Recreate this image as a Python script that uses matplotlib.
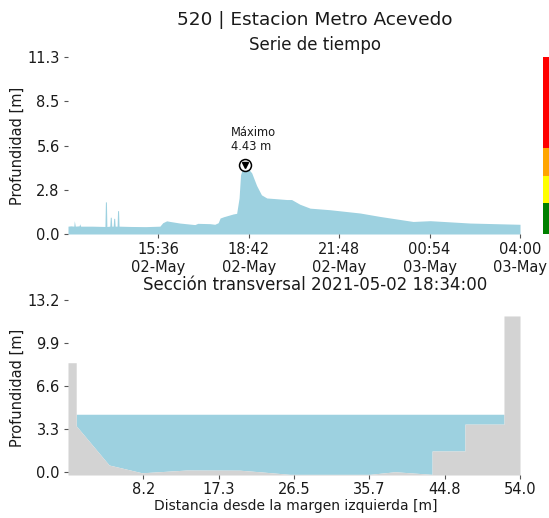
import matplotlib
matplotlib.use('Agg')
import matplotlib.pyplot as plt
import matplotlib.dates as mdates
import numpy as np
import pandas as pd

# ---------------- data ----------------
station_title = "520 | Estacion Metro Acevedo"
series_title = "Serie de tiempo"
section_title = "Sección transversal 2021-05-02 18:34:00"
ylabel = "Profundidad [m]"
section_xlabel = "Distancia desde la margen izquierda [m]"

times = [
    "2021-05-02 12:30", "2021-05-02 12:36", "2021-05-02 12:42", "2021-05-02 12:43",
    "2021-05-02 12:45", "2021-05-02 12:53", "2021-05-02 12:54", "2021-05-02 12:56",
    "2021-05-02 13:20", "2021-05-02 13:46", "2021-05-02 13:47", "2021-05-02 13:49",
    "2021-05-02 13:50", "2021-05-02 13:56", "2021-05-02 13:57", "2021-05-02 13:59",
    "2021-05-02 14:00", "2021-05-02 14:03", "2021-05-02 14:04", "2021-05-02 14:06",
    "2021-05-02 14:07", "2021-05-02 14:11", "2021-05-02 14:12", "2021-05-02 14:14",
    "2021-05-02 14:15", "2021-05-02 14:40", "2021-05-02 15:10", "2021-05-02 15:39",
    "2021-05-02 15:45", "2021-05-02 15:53", "2021-05-02 16:00", "2021-05-02 16:20",
    "2021-05-02 16:51", "2021-05-02 16:57", "2021-05-02 17:22", "2021-05-02 17:32",
    "2021-05-02 17:39", "2021-05-02 17:43", "2021-05-02 17:50", "2021-05-02 18:10",
    "2021-05-02 18:17", "2021-05-02 18:22", "2021-05-02 18:25", "2021-05-02 18:30",
    "2021-05-02 18:34", "2021-05-02 18:48", "2021-05-02 18:58", "2021-05-02 19:08",
    "2021-05-02 19:19", "2021-05-02 19:40", "2021-05-02 20:00", "2021-05-02 20:10",
    "2021-05-02 20:27", "2021-05-02 20:48", "2021-05-02 21:29", "2021-05-02 22:31",
    "2021-05-02 23:12", "2021-05-03 00:20", "2021-05-03 00:55", "2021-05-03 02:17",
    "2021-05-03 04:00",
]
depths = [
    0.50, 0.52, 0.50, 0.85,
    0.50, 0.52, 0.65, 0.50,
    0.50, 0.48, 2.05, 2.05,
    0.48, 0.50, 1.07, 1.07,
    0.50, 0.50, 1.00, 1.00,
    0.50, 0.50, 1.49, 1.49,
    0.50, 0.48, 0.47, 0.50,
    0.72, 0.84, 0.80, 0.70,
    0.60, 0.68, 0.66, 0.62,
    0.72, 1.02, 1.10, 1.28,
    1.32, 2.30, 3.77, 4.30,
    4.43, 3.90, 3.10, 2.50,
    2.30, 2.25, 2.20, 2.20,
    1.90, 1.65, 1.55, 1.34,
    1.12, 0.80, 0.85, 0.70,
    0.62,
]

series_start = "2021-05-02 12:30"
series_end = "2021-05-03 04:00"
max_time = "2021-05-02 18:34"
max_depth = 4.43
max_label = "Máximo\n4.43 m"
label_time = "2021-05-02 18:05"

series_ymax = 11.3
series_ytick_labels = ["0.0", "2.8", "5.6", "8.5", "11.3"]
level_bounds = [0.0, 2.0, 3.7, 5.5, 11.3]
level_colors = ["#008000", "#FFFF00", "#FFA500", "#FF0000"]

section_x = [-1.0, 0.0, 0.0, 4.0, 8.0, 13.4, 19.9, 22.3, 26.0, 35.7, 38.8,
             43.3, 43.3, 47.3, 47.3, 52.05, 52.05, 54.0]
section_y = [8.4, 8.4, 3.54, 0.52, -0.08, 0.13, 0.12, 0.0, -0.2, -0.2, 0.0,
             -0.2, 1.6, 1.6, 3.67, 3.67, 12.0, 12.0]
water_level = 4.43
section_ymin = -0.25
section_ymax = 13.2
section_ytick_labels = ["0.0", "3.3", "6.6", "9.9", "13.2"]
section_xmin = -1.0
section_xmax = 54.0
section_xtick_labels = ["8.2", "17.3", "26.5", "35.7", "44.8", "54.0"]

water_color = "#9DD1E0"
ground_color = "#D3D3D3"

# ---------------- figure ----------------
W, H = 549, 518
fig = plt.figure(figsize=(W / 100, H / 100), dpi=100)
fig.patch.set_facecolor("white")

def fx(px):
    return px / W

def fy(py):
    return 1 - py / H

tick_kw = dict(length=3, width=0.8, color="#555555", labelsize=10.5, pad=3,
               labelcolor="#1a1a1a")

# ---- time series ----
ax1 = fig.add_axes([fx(68), fy(234), fx(520) - fx(68), fy(57) - fy(234)])
t = pd.to_datetime(times)
ax1.fill_between(t, depths, 0, color=water_color, lw=0)
t0 = pd.Timestamp(series_start)
t1 = pd.Timestamp(series_end)
ax1.set_xlim(t0, t1)
ax1.set_ylim(0, series_ymax)
ax1.set_yticks(np.linspace(0, series_ymax, 5))
ax1.set_yticklabels(series_ytick_labels)
xt = pd.date_range(t0, t1, periods=6)[1:]
ax1.set_xticks(xt)
ax1.xaxis.set_major_formatter(mdates.DateFormatter("%H:%M\n%d-%b"))
ax1.tick_params(**tick_kw)
for s in ax1.spines.values():
    s.set_visible(False)
ax1.set_ylabel(ylabel, fontsize=10.5, labelpad=2, color="#1a1a1a")

mt = pd.Timestamp(max_time)
ax1.plot([mt], [max_depth], "o", ms=8.6, mfc="white", mec="black", mew=1.1, zorder=5)
ax1.plot([mt], [max_depth], "v", ms=4.2, color="black", zorder=6)
ax1.text(pd.Timestamp(label_time), 5.15, max_label, fontsize=8.3, ha="left",
         va="bottom", linespacing=1.1, color="#1a1a1a")

# ---- level color bar ----
axc = fig.add_axes([fx(543), fy(234), fx(549) - fx(543), fy(57) - fy(234)])
for lo, hi, c in zip(level_bounds[:-1], level_bounds[1:], level_colors):
    axc.bar(0, hi - lo, bottom=lo, width=1, color=c, lw=0)
axc.set_xlim(-0.5, 0.5)
axc.set_ylim(0, series_ymax)
axc.axis("off")

# ---- cross section ----
ax2 = fig.add_axes([fx(68), fy(475), fx(520) - fx(68), fy(300.4) - fy(475)])
sx = np.array(section_x)
sy = np.array(section_y)
ax2.fill_between(sx, sy, water_level, where=sy < water_level, interpolate=True,
                 color=water_color, lw=0)
ax2.fill_between(sx, sy, section_ymin, color=ground_color, lw=0)
ax2.set_xlim(section_xmin, section_xmax)
ax2.set_ylim(section_ymin, section_ymax)
ax2.set_yticks(np.linspace(0, section_ymax, 5))
ax2.set_yticklabels(section_ytick_labels)
ax2.set_xticks(np.linspace(section_xmin, section_xmax, 7)[1:])
ax2.set_xticklabels(section_xtick_labels)
ax2.tick_params(**tick_kw)
ax2.tick_params(axis="x", pad=2)
for s in ax2.spines.values():
    s.set_visible(False)
ax2.set_ylabel(ylabel, fontsize=10.5, labelpad=2, color="#1a1a1a")

# ---- titles ----
fig.text(fx(315), fy(25), station_title, fontsize=13.3, ha="center", va="baseline",
         color="#1a1a1a")
fig.text(fx(315), fy(50), series_title, fontsize=12, ha="center", va="baseline",
         color="#1a1a1a")
fig.text(fx(315), fy(290), section_title, fontsize=12, ha="center", va="baseline",
         color="#1a1a1a")
fig.text(fx(296), fy(510), section_xlabel, fontsize=10, ha="center", va="baseline",
         color="#1a1a1a")

fig.savefig("out.png", dpi=100)
